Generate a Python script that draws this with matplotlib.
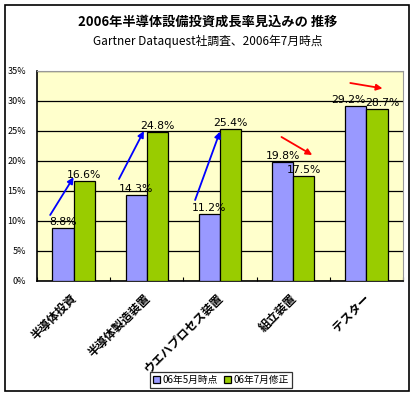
import matplotlib
matplotlib.use("Agg")
import matplotlib.pyplot as plt
from matplotlib.patches import Rectangle
import numpy as np

plt.rcParams['font.family'] = ['Noto Sans CJK JP', 'DejaVu Sans']

categories = ["半導体投資", "半導体製造装置", "ウエハプロセス装置", "組立装置", "テスター"]
may_values = [8.8, 14.3, 11.2, 19.8, 29.2]
jul_values = [16.6, 24.8, 25.4, 17.5, 28.7]
series_names = ["06年5月時点", "06年7月修正"]
yticks = [0, 5, 10, 15, 20, 25, 30, 35]
# arrows: (x_start, y_start, x_end, y_end, color) in data coords
arrows = [
    (-0.32, 11.0, 0.0, 17.3, "blue"),
    (0.62, 17.0, 0.96, 25.0, "blue"),
    (1.66, 13.5, 2.0, 24.9, "blue"),
    (2.84, 24.0, 3.26, 21.0, "red"),
    (3.78, 33.0, 4.22, 32.1, "red"),
]
# horizontal nudges of the value labels (category units)
may_label_dx = [0, 0, 0, 0, -0.1]
jul_label_dx = [0, 0, 0, 0, 0.07]

W, H = 415, 395
fig = plt.figure(figsize=(W / 100, H / 100), dpi=100)
fig.patch.set_facecolor("white")
fig.add_artist(Rectangle((5 / W, 1 - 391 / H), 404 / W, 386 / H, transform=fig.transFigure,
                         fill=False, edgecolor="black", linewidth=1.2))

ax = fig.add_axes([37 / W, 1 - 281 / H, 366 / W, 210 / H])
ax.set_facecolor("#FFFFCC")
x = np.arange(len(categories))
bw = 0.29
ax.bar(x - bw / 2, may_values, bw, color="#9999FF", edgecolor="black", linewidth=0.9,
       label=series_names[0], zorder=3)
ax.bar(x + bw / 2, jul_values, bw, color="#99CC00", edgecolor="black", linewidth=0.9,
       label=series_names[1], zorder=3)

for i in range(len(categories)):
    ax.text(x[i] - bw / 2 + may_label_dx[i], may_values[i] + 0.15, f"{may_values[i]:.1f}%",
            ha="center", va="bottom", fontsize=7.8, zorder=5, family=['DejaVu Sans'])
    ax.text(x[i] + bw / 2 + jul_label_dx[i], jul_values[i] + 0.15, f"{jul_values[i]:.1f}%",
            ha="center", va="bottom", fontsize=7.8, zorder=5, family=['DejaVu Sans'])

for xs, ys, xe, ye, c in arrows:
    ax.annotate("", xy=(xe, ye), xytext=(xs, ys),
                arrowprops=dict(arrowstyle="-|>", color=c, lw=1.3, mutation_scale=9,
                                shrinkA=0, shrinkB=0), zorder=6)

ax.set_xlim(-0.5, len(categories) - 0.5)
ax.set_ylim(0, 35)
ax.set_yticks(yticks)
ax.set_yticklabels([f"{v}%" for v in yticks], fontsize=6.5)
ax.yaxis.grid(True, color="black", linewidth=0.9, zorder=1)
ax.set_axisbelow(True)
ax.tick_params(axis="y", length=0, pad=8)
ax.set_xticks(np.arange(len(categories) + 1) - 0.5, minor=False)
ax.set_xticklabels([])
ax.tick_params(axis="x", direction="in", length=3, width=0.8)
for i, c in enumerate(categories):
    ax.text(x[i] - 0.04, -1.8, c, rotation=45, ha="right", va="top", rotation_mode="anchor",
            fontsize=8.5, fontweight="bold")
for s in ["left", "bottom"]:
    ax.spines[s].set_linewidth(1.2)
for s in ["top", "right"]:
    ax.spines[s].set_color("#999999")

fig.text(0.5, 1 - 22 / H, "2006年半導体設備投資成長率見込みの 推移", ha="center", va="center",
         fontsize=9.5, fontweight="bold")
fig.text(0.5, 1 - 41 / H, "Gartner Dataquest社調査、2006年7月時点", ha="center", va="center",
         fontsize=8.5)

leg = fig.legend(loc="center", bbox_to_anchor=(221 / W, 1 - 380 / H), ncol=2, fontsize=7,
                 frameon=True, fancybox=False, edgecolor="black", handlelength=0.7,
                 handleheight=0.7, handletextpad=0.3, columnspacing=0.6, borderpad=0.3)
leg.get_frame().set_linewidth(0.9)

fig.savefig("out.png", dpi=100)
